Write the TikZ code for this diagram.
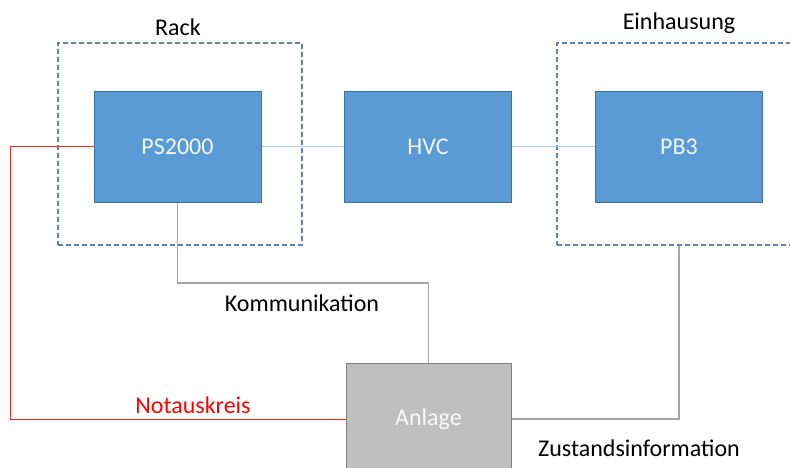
\documentclass[tikz,border=0pt]{standalone}
\usepackage{fontspec}
\setmainfont{Carlito}
\definecolor{boxblue}{HTML}{5B9BD5}
\definecolor{boxedge}{HTML}{41719C}
\definecolor{dashcol}{HTML}{5C84AE}
\definecolor{linkblue}{HTML}{A9CBEA}
\definecolor{greyline}{HTML}{A6A6A6}
\definecolor{anlfill}{HTML}{BFBFBF}
\definecolor{anledge}{HTML}{7F7F7F}
\begin{document}
\begin{tikzpicture}[x=1pt,y=-1pt,
  every node/.style={font=\fontsize{24}{28}\selectfont},
  bluebox/.style={draw=boxedge,fill=boxblue,line width=1pt,minimum width=167pt,minimum height=110pt,text=white!92!boxblue,inner sep=0pt},
  grpbox/.style={draw=dashcol,dash pattern=on 5pt off 3pt,line width=1.4pt,inner sep=0pt},
  anlbox/.style={draw=anledge,fill=anlfill,line width=1pt,minimum width=165pt,minimum height=112pt,text=white!90!anlfill,inner sep=0pt},
  bluelink/.style={draw=linkblue,line width=1pt},
  greylink/.style={draw=greyline,line width=1.2pt},
  redlink/.style={draw=red!85,line width=1pt},
  lbl/.style={text=black,inner sep=0pt}]
\useasboundingbox (0,0) rectangle (790,468);
\clip (0,0) rectangle (790,468);
% group frames
\node[grpbox,minimum width=244pt,minimum height=202pt] (rack) at (180,144) {};
\node[grpbox,minimum width=244pt,minimum height=202pt] (einh) at (679,144) {};
\node[lbl] (racklbl) at (178,27) {Rack};
\node[lbl] (einhlbl) at (679,23) {Einhausung};
% main boxes
\node[bluebox] (ps) at (177.5,147) {PS2000};
\node[bluebox] (hvc) at (428,147) {HVC};
\node[bluebox] (pb) at (679,147) {PB3};
\node[anlbox] (anl) at (428.5,419) {Anlage};
% links
\draw[bluelink] (ps.east) -- (hvc.west);
\draw[bluelink] (hvc.east) -- (pb.west);
\coordinate (nl) at (10,418);
\coordinate (kc) at (0,283);
\draw[redlink] (ps.west) -- (ps.west -| nl) |- (anl.west);
\draw[greylink] (ps.south) |- (anl.north |- kc) -- (anl.north);
\draw[greylink] (anl.east) -| (einh.south);
% labels
\node[lbl] (komm) at (302,303) {Kommunikation};
\node[lbl,text=red] (not) at (193,405) {Notauskreis};
\node[lbl] (zust) at (639,448) {Zustandsinformation};
\end{tikzpicture}
\end{document}
